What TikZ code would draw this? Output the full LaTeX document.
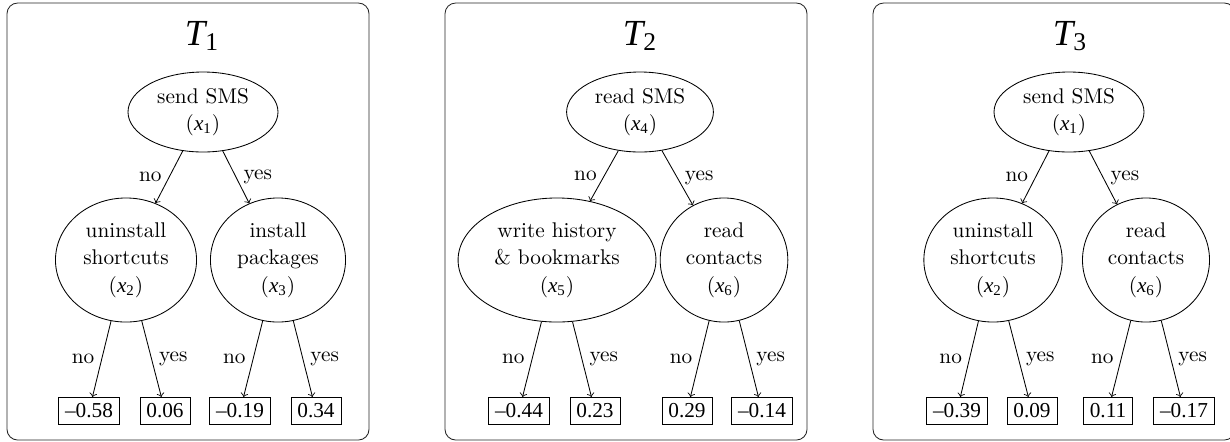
\documentclass[tikz,border=0pt]{standalone}
\usepackage{fontspec}
\newfontfamily\tms{Liberation Serif}
\usetikzlibrary{shapes.geometric}

\tikzset{
	panel/.style={draw=black!85, rounded corners=5pt},
	test/.style={ellipse, draw, align=center, inner sep=0pt, font=\fontsize{10}{13}\selectfont},
	leaf/.style={rectangle, draw, font=\tms, inner sep=3pt},
	title/.style={font=\tms\LARGE},
}
\newcommand{\feat}[1]{({\tms\itshape x}\textsubscript{\tms #1})}
\newcommand{\tree}[1]{{\itshape T}\textsubscript{#1}}

\begin{document}
\begin{tikzpicture}[x=0.47pt, y=-0.47pt]
		
		\useasboundingbox (0,0) rectangle (1230,441);
		
		%Panels
		\draw[panel] (7,3) rectangle (369,440);
		\draw[panel] (445,3) rectangle (807,440);
		\draw[panel] (873,3) rectangle (1235,440);
		
		\node (title1) at (202,36) [title]{\tree{1}};
		\node (title2) at (640,36) [title]{\tree{2}};
		\node (title3) at (1070,36) [title]{\tree{3}};
		
		%Tree 1
		\node (r1) at (203,112) [test, minimum width=70.5pt, minimum height=37.6pt]{send SMS\\\feat{1}};
		\node (a1) at (126,260) [test, minimum width=66.3pt, minimum height=58.3pt]{uninstall\\shortcuts\\\feat{2}};
		\node (b1) at (278,260) [test, minimum width=63.5pt, minimum height=58.3pt]{install\\packages\\\feat{3}};
		\node (l11) at (89,411) [leaf]{–0.58};
		\node (l12) at (165,411) [leaf]{0.06};
		\node (l13) at (240,411) [leaf]{–0.19};
		\node (l14) at (316,411) [leaf]{0.34};
		
		\draw[->] (r1) -- node[left]{no} (a1);
		\draw[->] (r1) -- node[right]{yes} (b1);
		\draw[->] (a1) -- node[left]{no} (l11);
		\draw[->] (a1) -- node[right]{yes} (l12);
		\draw[->] (b1) -- node[left]{no} (l13);
		\draw[->] (b1) -- node[right]{yes} (l14);
		
		%Tree 2
		\node (r2) at (640,112) [test, minimum width=69pt, minimum height=37.6pt]{read SMS\\\feat{4}};
		\node (a2) at (557,260) [test, minimum width=93pt, minimum height=58.3pt]{write history\\\& bookmarks\\\feat{5}};
		\node (b2) at (724,260) [test, minimum width=60pt, minimum height=58.3pt]{read\\contacts\\\feat{6}};
		\node (l21) at (519,411) [leaf]{–0.44};
		\node (l22) at (595,411) [leaf]{0.23};
		\node (l23) at (687,411) [leaf]{0.29};
		\node (l24) at (762,411) [leaf]{–0.14};
		
		\draw[->] (r2) -- node[left]{no} (a2);
		\draw[->] (r2) -- node[right]{yes} (b2);
		\draw[->] (a2) -- node[left]{no} (l21);
		\draw[->] (a2) -- node[right]{yes} (l22);
		\draw[->] (b2) -- node[left]{no} (l23);
		\draw[->] (b2) -- node[right]{yes} (l24);
		
		%Tree 3
		\node (r3) at (1069,112) [test, minimum width=70.5pt, minimum height=37.6pt]{send SMS\\\feat{1}};
		\node (a3) at (993,260) [test, minimum width=65pt, minimum height=58.3pt]{uninstall\\shortcuts\\\feat{2}};
		\node (b3) at (1146,260) [test, minimum width=59.7pt, minimum height=58.3pt]{read\\contacts\\\feat{6}};
		\node (l31) at (957,411) [leaf]{–0.39};
		\node (l32) at (1032,411) [leaf]{0.09};
		\node (l33) at (1108,411) [leaf]{0.11};
		\node (l34) at (1184,411) [leaf]{–0.17};
		
		\draw[->] (r3) -- node[left]{no} (a3);
		\draw[->] (r3) -- node[right]{yes} (b3);
		\draw[->] (a3) -- node[left]{no} (l31);
		\draw[->] (a3) -- node[right]{yes} (l32);
		\draw[->] (b3) -- node[left]{no} (l33);
		\draw[->] (b3) -- node[right]{yes} (l34);
		
\end{tikzpicture}
\end{document}
